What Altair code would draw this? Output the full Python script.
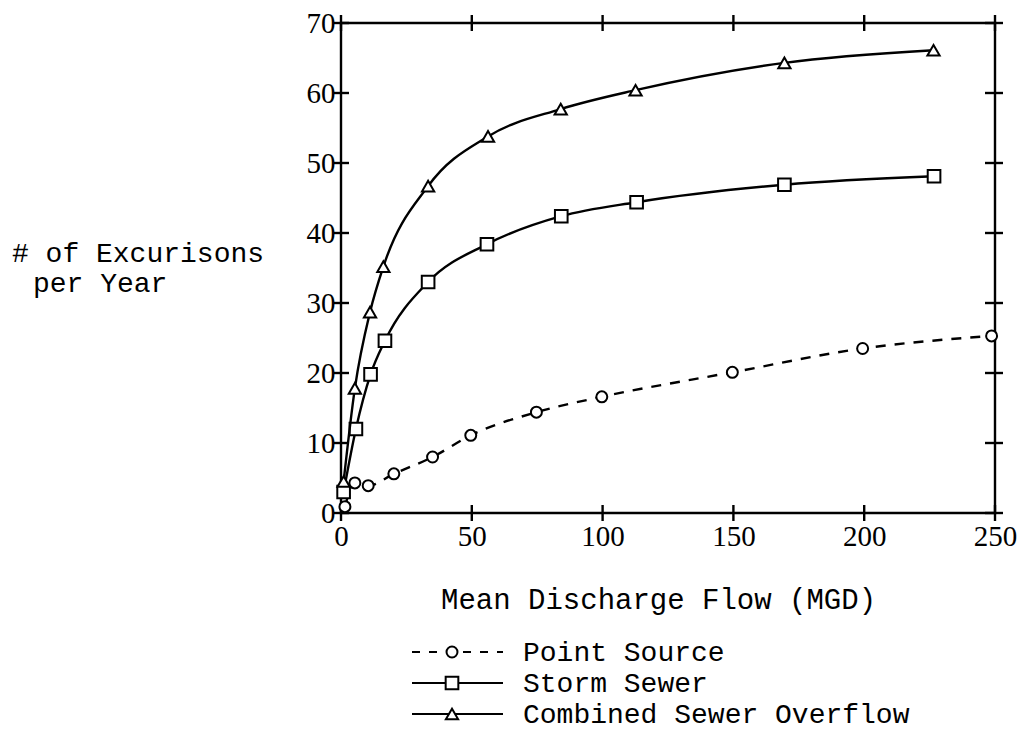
import altair as alt
import pandas as pd

# Point Source (dashed line, circles)
ps_flow = [1.5, 5.3, 10.4, 20.2, 35.0, 49.6, 74.7, 99.7, 149.6, 199.4, 248.7]
ps_exc = [0.9, 4.3, 3.9, 5.6, 8.0, 11.1, 14.4, 16.6, 20.1, 23.5, 25.3]

# Storm Sewer (solid line, squares)
ss_flow = [1.0, 5.7, 11.3, 16.8, 33.3, 55.8, 84.2, 113.0, 169.5, 226.7]
ss_exc = [3.0, 12.0, 19.8, 24.6, 33.0, 38.4, 42.4, 44.4, 46.9, 48.1]

# Combined Sewer Overflow (solid line, triangles)
cso_flow = [1.0, 5.3, 11.1, 16.2, 33.3, 56.2, 84.0, 112.6, 169.5, 226.5]
cso_exc = [4.5, 17.8, 28.7, 35.2, 46.7, 53.8, 57.7, 60.4, 64.3, 66.1]

x_ticks = [0, 50, 100, 150, 200, 250]
y_ticks = [0, 10, 20, 30, 40, 50, 60, 70]

series_names = ["Point Source", "Storm Sewer", "Combined Sewer Overflow"]
x_title = "Mean Discharge Flow (MGD)"
y_title_lines = ["# of Excurisons", "per Year"]

W, H = 654, 490
MONO = "Liberation Mono"
SERIF = "Liberation Serif"
INK = "black"
LW = 2.4
FS = 28

xs = alt.Scale(domain=[0, 250], nice=False, zero=False)
ys = alt.Scale(domain=[0, 70], nice=False, zero=False)

x_axis = alt.Axis(values=x_ticks, ticks=False, domain=False, grid=False,
                  labelFont=SERIF, labelFontSize=29, labelColor=INK,
                  labelPadding=9, labelFlush=False, labelOverlap=False,
                  title=None)
y_axis = alt.Axis(values=y_ticks, ticks=False, domain=False, grid=False,
                  labelFont=SERIF, labelFontSize=29, labelColor=INK,
                  labelPadding=6, labelFlush=False, labelOverlap=False,
                  title=None)


def X(field):
    return alt.X(field, scale=xs, axis=x_axis)


def Y(field):
    return alt.Y(field, scale=ys, axis=y_axis)


def series_layers(flow, exc, shape, size, dash=None):
    df = pd.DataFrame({"flow": flow, "exc": exc})
    line_kw = dict(color=INK, strokeWidth=LW, interpolate="monotone")
    if dash:
        line_kw["strokeDash"] = dash
    line = alt.Chart(df).mark_line(**line_kw).encode(
        x=X("flow:Q"), y=Y("exc:Q"))
    pts = alt.Chart(df).mark_point(
        shape=shape, size=size, filled=True, fill="white", stroke=INK,
        strokeWidth=2, opacity=1
    ).encode(x=X("flow:Q"), y=Y("exc:Q"))
    return [line, pts]


# tick marks crossing the frame on all four sides
tx = pd.DataFrame({"v": x_ticks})
ty = pd.DataFrame({"v": y_ticks})
tick_rule = dict(color=INK, strokeWidth=LW)
bottom_ticks = alt.Chart(tx).mark_rule(**tick_rule).encode(
    x=X("v:Q"), y=alt.value(H - 8), y2=alt.value(H + 8))
top_ticks = alt.Chart(tx).mark_rule(**tick_rule).encode(
    x=X("v:Q"), y=alt.value(-8), y2=alt.value(8))
left_ticks = alt.Chart(ty).mark_rule(**tick_rule).encode(
    y=Y("v:Q"), x=alt.value(-7), x2=alt.value(8))
right_ticks = alt.Chart(ty).mark_rule(**tick_rule).encode(
    y=Y("v:Q"), x=alt.value(W - 10), x2=alt.value(W + 8))

one = pd.DataFrame({"k": [0]})


def text_at(txt, x, y, size=FS, align="left"):
    return alt.Chart(one).mark_text(
        text=txt, font=MONO, fontSize=size, align=align,
        baseline="alphabetic", color=INK
    ).encode(x=alt.value(x), y=alt.value(y))


def rule_at(x1, x2, y, dash=None):
    kw = dict(color=INK, strokeWidth=2)
    if dash:
        kw["strokeDash"] = dash
    return alt.Chart(one).mark_rule(**kw).encode(
        x=alt.value(x1), x2=alt.value(x2), y=alt.value(y))


def symbol_at(shape, size, x, y):
    return alt.Chart(one).mark_point(
        shape=shape, size=size, filled=True, fill="white", stroke=INK,
        strokeWidth=2, opacity=1
    ).encode(x=alt.value(x), y=alt.value(y))


# axis titles
titles = [
    text_at(y_title_lines[0], -329, 239),
    text_at(y_title_lines[1], -308, 269),
    text_at(x_title, 100, 586, size=29),
]

# legend below the plot
legend_specs = [
    (series_names[0], "circle", 120, [8, 9]),
    (series_names[1], "square", 160, None),
    (series_names[2], "triangle-up", 150, None),
]
legend = []
for i, (name, shape, size, dash) in enumerate(legend_specs):
    cy = 629 + 31 * i
    legend.append(rule_at(71, 162, cy, dash))
    legend.append(symbol_at(shape, size, 111, cy))
    legend.append(text_at(name, 182, cy + 9))

layers = (
    [bottom_ticks, top_ticks, left_ticks, right_ticks]
    + series_layers(ps_flow, ps_exc, "circle", 120, [10, 9])
    + series_layers(ss_flow, ss_exc, "square", 160)
    + series_layers(cso_flow, cso_exc, "triangle-up", 150)
    + titles
    + legend
)

chart = alt.layer(*layers).properties(
    width=W, height=H,
    autosize=alt.AutoSizeParams(type="none"),
    padding={"left": 341, "top": 23, "right": 27, "bottom": 221},
    background="white",
).configure_view(
    stroke=INK, strokeWidth=LW
)

chart.save("out.html", embed_options={"renderer": "svg", "actions": False})
